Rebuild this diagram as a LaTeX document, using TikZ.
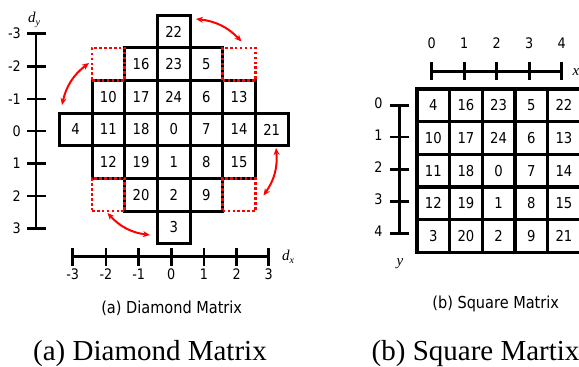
\documentclass[tikz,border=0pt]{standalone}
\usepackage{fontspec}
\setmainfont{Liberation Serif}
\setsansfont{DejaVu Sans}[FakeStretch=0.88]
\usetikzlibrary{arrows.meta}
\begin{document}
\begin{tikzpicture}[x=1pt,y=-1pt,
  cell/.style={draw, line width=3pt, minimum size=32.67pt, inner sep=0pt, font=\sffamily\fontsize{15}{18}\selectfont},
  sqcell/.style={cell, line width=3.4pt},
  ghost/.style={draw=red, line width=2.5pt, dash pattern=on 2.6pt off 2.3pt, minimum size=32.67pt, inner sep=0pt},
  axisline/.style={line width=2.8pt},
  lab/.style={font=\sffamily\fontsize{14.5}{17}\selectfont, inner sep=0pt},
  small/.style={font=\sffamily\fontsize{16.5}{19}\selectfont, inner sep=0pt},
  big/.style={font=\rmfamily\fontsize{29}{34}\selectfont, inner sep=0pt},
  varlab/.style={font=\rmfamily\itshape\fontsize{15}{18}\selectfont, inner sep=0pt},
  rotarrow/.style={red, line width=2pt, {Stealth[length=7pt,width=6pt]}-{Stealth[length=7pt,width=6pt]}, bend left=20},
]
\useasboundingbox (0,0) rectangle (579,367);

% ---------- diamond matrix ----------
\foreach \v/\dx/\dy in {22/0/-3, 16/-1/-2, 23/0/-2, 5/1/-2,
  10/-2/-1, 17/-1/-1, 24/0/-1, 6/1/-1, 13/2/-1,
  4/-3/0, 11/-2/0, 18/-1/0, 0/0/0, 7/1/0, 14/2/0, 21/3/0,
  12/-2/1, 19/-1/1, 1/0/1, 8/1/1, 15/2/1,
  20/-1/2, 2/0/2, 9/1/2, 3/0/3}
  \node[cell] (d\v) at ({173.7+32.67*\dx},{129.5+32.67*\dy}) {\v};

\node[ghost] (g1) at ({173.7-2*32.67},{129.5-2*32.67}) {};
\node[ghost] (g2) at ({173.7+2*32.67},{129.5-2*32.67}) {};
\node[ghost] (g3) at ({173.7-2*32.67},{129.5+2*32.67}) {};
\node[ghost] (g4) at ({173.7+2*32.67},{129.5+2*32.67}) {};

% rotation arrows
\coordinate (t1) at (196,19);   \coordinate (t2) at (241.5,41.5);
\coordinate (l1) at (62,105);   \coordinate (l2) at (89,63);
\coordinate (r1) at (276,148);  \coordinate (r2) at (263.5,195.5);
\coordinate (b1) at (150,235);  \coordinate (b2) at (107.5,213);
\draw[rotarrow] (t1) to (t2);
\draw[rotarrow] (l1) to (l2);
\draw[rotarrow] (r1) to (r2);
\draw[rotarrow] (b1) to (b2);

% d_y axis
\draw[axisline] (36,33.7) -- (36,228.7);
\foreach \y/\t in {33.7/-3, 66.3/-2, 99/-1, 131/0, 163.7/1, 196/2, 228.7/3} {
  \draw[axisline] (27,\y) -- (46,\y);
  \node[lab, anchor=east] at (21,\y) {\t};
}
\node[varlab] (dy) at (34,20) {d\raisebox{-3pt}{\fontsize{10}{10}\selectfont y}};

% d_x axis
\draw[axisline] (72.7,256.7) -- (268.7,256.7);
\foreach \x/\t in {72.7/-3, 106/-2, 138.7/-1, 171.3/0, 204/1, 236.7/2, 268.7/3} {
  \draw[axisline] (\x,247.5) -- (\x,265.5);
  \node[lab] at (\x,274) {\t};
}
\node[varlab] (dx) at (288,257) {d\raisebox{-3pt}{\fontsize{10}{10}\selectfont x}};

\node[small] (capa) at (171.7,308) {(a) Diamond Matrix};
\node[big, anchor=base west] (biga) at (33,360) {(a) Diamond Matrix};

% ---------- square matrix ----------
\foreach \r/\row in {0/{4,16,23,5,22}, 1/{10,17,24,6,13}, 2/{11,18,0,7,14}, 3/{12,19,1,8,15}, 4/{3,20,2,9,21}} {
  \foreach \v [count=\c from 0] in \row
    \node[sqcell] (s\r-\c) at ({433.3+32.67*\c},{105.3+32.67*\r}) {\v};
}

% x axis
\draw[axisline] (431.7,71.7) -- (561.7,71.7);
\foreach \x/\t in {431.7/0, 464.3/1, 496.7/2, 529.3/3, 561.7/4} {
  \draw[axisline] (\x,62) -- (\x,80);
  \node[lab] at (\x,43.5) {\t};
}
\node[varlab] (xl) at (576,72) {x};

% y axis
\draw[axisline] (399.3,105.7) -- (399.3,233.3);
\foreach \y/\t in {105.7/0, 137/1, 169.3/2, 201.7/3, 233.3/4} {
  \draw[axisline] (390,\y) -- (408.5,\y);
  \node[lab] at (378.5,\y-2) {\t};
}
\node[varlab] (yl) at (400,264) {y};

\node[small] (capb) at (495.7,303.5) {(b) Square Matrix};
\node[big, anchor=base west] (bigb) at (371.5,360) {(b) Square Martix};
\end{tikzpicture}
\end{document}
